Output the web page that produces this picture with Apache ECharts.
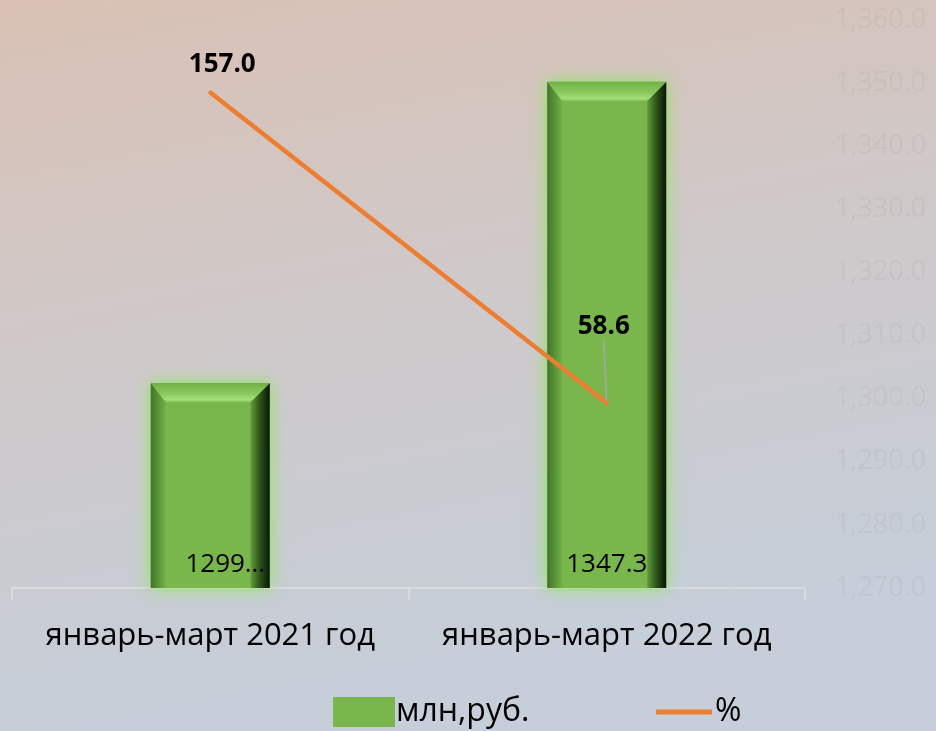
<!DOCTYPE html>
<html><head><meta charset="utf-8">
<script src="https://cdn.jsdelivr.net/npm/echarts@6/dist/echarts.min.js"></script>
<style>html,body{margin:0;padding:0}#c{width:936px;height:731px}</style>
</head><body><div id="c"></div>
<script>
const categories = ['январь-март 2021 год', 'январь-март 2022 год'];
const amountValues = [1299.6, 1347.3];
const percentValues = [157.0, 58.6];
const seriesNames = ['млн,руб.', '%'];
const rightTickMin = 1270, rightTickMax = 1360, rightTickStep = 10;

const chart = echarts.init(document.getElementById('c'));
const fontFam = '"Open Sans", "Noto Sans", sans-serif';
const barMin = 1267.1, barMax = barMin + (rightTickMax - rightTickMin);

function renderBar(params, api) {
  const ci = api.value(0), v = api.value(1);
  const top = api.coord([ci, v]);
  const bot = api.coord([ci, barMin]);
  const w = api.size([1, 0])[0] * 0.30;
  const x0 = top[0] - w / 2, x1 = top[0] + w / 2, y0 = top[1], y1 = bot[1];
  const bt = 19, bl = 15, br = 19;
  // the first label is clipped in the reference ("1299…")
  const label = params.dataIndex === 0 ? String(Math.trunc(v)) + '…' : v.toFixed(1);
  return {
    type: 'group',
    children: [
      {type: 'rect', shape: {x: x0, y: y0, width: w, height: y1 - y0},
       style: {fill: '#79b74c', shadowBlur: 16, shadowColor: 'rgba(140,230,90,1)'}},
      {type: 'polygon', shape: {points: [[x0, y0], [x0 + bl, y0 + bt], [x0 + bl, y1], [x0, y1]]},
       style: {fill: new echarts.graphic.LinearGradient(0, 0, 1, 0, [
         {offset: 0, color: '#3f7527'}, {offset: 1, color: '#74b14a'}])}},
      {type: 'polygon', shape: {points: [[x1, y0], [x1 - br, y0 + bt], [x1 - br, y1], [x1, y1]]},
       style: {fill: new echarts.graphic.LinearGradient(0, 0, 1, 0, [
         {offset: 0, color: '#5f9a3c'}, {offset: 0.5, color: '#2c5219'}, {offset: 1, color: '#0a1505'}])}},
      {type: 'polygon', shape: {points: [[x0, y0], [x1, y0], [x1 - br, y0 + bt], [x0 + bl, y0 + bt]]},
       style: {fill: new echarts.graphic.LinearGradient(0, 0, 0, 1, [
         {offset: 0, color: '#72b045'}, {offset: 0.6, color: '#8acb5e'}, {offset: 0.85, color: '#a4de7a'}, {offset: 1, color: '#8ccb60'}])}},
      {type: 'text', z2: 100,
       style: {text: label, x: params.dataIndex === 0 ? top[0] + 15 : top[0], y: y1 - 10,
               align: 'center', verticalAlign: 'bottom', fontSize: 26, fill: '#000', fontFamily: fontFam}}
    ]
  };
}

chart.setOption({
  backgroundColor: new echarts.graphic.LinearGradient(0, 0, 0.15, 1, [
    {offset: 0, color: '#d9c1b4'},
    {offset: 0.5, color: '#cfc9ca'},
    {offset: 1, color: '#c5ced9'}
  ]),
  animation: false,
  textStyle: {fontFamily: fontFam},
  grid: {left: 12, right: 131, top: 20, bottom: 143},
  legend: [
    {
      left: 333, top: 696, padding: 0, itemWidth: 62, itemHeight: 30, icon: 'rect', itemGap: 0,
      textStyle: {fontSize: 32, color: '#000', fontFamily: fontFam, padding: [0, 0, 0, -4]},
      data: [seriesNames[0]]
    },
    {
      left: 656, top: 696, padding: 0, itemWidth: 56, itemHeight: 5, icon: 'roundRect', itemGap: 0,
      textStyle: {fontSize: 32, color: '#000', fontFamily: fontFam, padding: [0, 0, 0, -2]},
      data: [seriesNames[1]]
    }
  ],
  xAxis: {
    type: 'category', data: categories,
    axisLine: {lineStyle: {color: '#dedede', width: 1.5}},
    axisTick: {show: true, length: 12, lineStyle: {color: '#dedede', width: 1.5}},
    axisLabel: {fontSize: 31, color: '#000', margin: 33, interval: 0, fontFamily: fontFam}
  },
  yAxis: [
    {
      type: 'value', position: 'right', min: rightTickMin, max: rightTickMax, interval: rightTickStep,
      splitLine: {show: false}, axisLine: {show: false}, axisTick: {show: false},
      axisLabel: {
        fontSize: 27, color: 'rgba(110,95,95,0.07)', margin: 30,
        formatter: v => v.toLocaleString('en-US', {minimumFractionDigits: 1, maximumFractionDigits: 1})
      }
    },
    {type: 'value', min: barMin, max: barMax, show: false, splitLine: {show: false}},
    {type: 'value', min: 0, max: 180, show: false, splitLine: {show: false}}
  ],
  series: [
    {
      name: seriesNames[0], type: 'custom', yAxisIndex: 1, renderItem: renderBar,
      itemStyle: {color: '#79b74c'},
      encode: {x: 0, y: 1},
      data: amountValues.map((v, i) => [i, v])
    },
    {
      name: seriesNames[1], type: 'line', yAxisIndex: 2, z: 5,
      symbol: 'circle', symbolSize: 4, showSymbol: true,
      lineStyle: {color: '#ed7d31', width: 4.5}, itemStyle: {color: '#ed7d31'},
      label: {show: true, position: 'top', fontSize: 26, fontWeight: 'bold', color: '#000',
              fontFamily: fontFam, formatter: p => p.value.toFixed(1)},
      labelLayout: p => p.dataIndex === 1 ? {dy: -56, dx: -3} : {dx: 12, dy: -8},
      labelLine: {show: true, lineStyle: {color: '#a6a6a6', width: 1.5}},
      data: percentValues.map((v, i) => i === 0 ? {value: v, labelLine: {show: false}} : {value: v})
    }
  ]
});
</script></body></html>
